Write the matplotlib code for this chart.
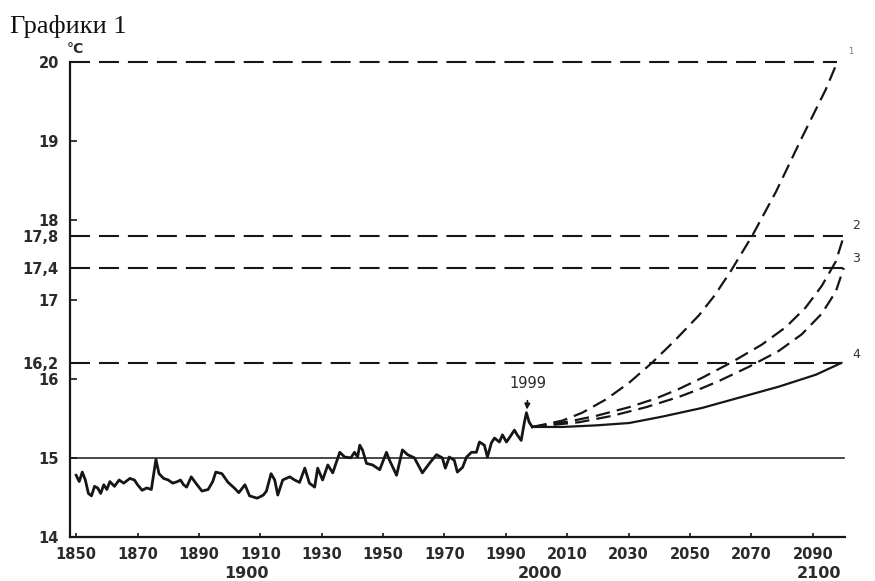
import matplotlib.pyplot as plt
from matplotlib.ticker import FixedLocator, FixedFormatter

hist_years = [1850, 1851, 1852, 1853, 1854, 1855, 1856, 1857, 1858, 1859,
              1860, 1861, 1862.5, 1864, 1865.5, 1867.5, 1869, 1870, 1871.5, 1873,
              1874.5, 1876, 1877, 1878.5, 1880, 1881.5, 1883, 1884, 1885, 1886,
              1887.5, 1889, 1891, 1893, 1894.5, 1895.5, 1897.5, 1899.5, 1901.5, 1903,
              1905, 1906.5, 1909, 1911, 1912, 1913.5, 1914.7, 1915.7, 1917.3, 1919.6,
              1921.2, 1922.8, 1924.5, 1926, 1927.7, 1928.7, 1930.3, 1932, 1933.6, 1935.9,
              1937.5, 1939.5, 1940.7, 1941.7, 1942.4, 1943.3, 1944.6, 1946.6, 1948.9, 1951.1,
              1952.1, 1954.4, 1956.3, 1958, 1960.2, 1962.8, 1965.1, 1967.4, 1969.3, 1970.3,
              1971.6, 1973.2, 1974.2, 1975.9, 1977.2, 1978.8, 1980.4, 1981.4, 1983, 1984,
              1985.3, 1986.3, 1987.9, 1988.9, 1990.2, 1991.1, 1992.8, 1993.7, 1995, 1996,
              1996.7, 1997.6, 1998.6]
hist_temps = [14.78, 14.70, 14.82, 14.72, 14.55, 14.52, 14.64, 14.62, 14.55, 14.66,
              14.60, 14.70, 14.64, 14.72, 14.68, 14.74, 14.72, 14.66, 14.59, 14.62,
              14.60, 14.98, 14.80, 14.74, 14.72, 14.68, 14.70, 14.72, 14.66, 14.63,
              14.76, 14.68, 14.58, 14.60, 14.70, 14.82, 14.80, 14.69, 14.62, 14.56,
              14.66, 14.52, 14.49, 14.53, 14.58, 14.80, 14.72, 14.53, 14.72, 14.76,
              14.72, 14.69, 14.87, 14.68, 14.63, 14.87, 14.72, 14.91, 14.81, 15.07,
              15.01, 15.00, 15.07, 15.01, 15.16, 15.10, 14.93, 14.91, 14.85, 15.07,
              14.97, 14.78, 15.10, 15.04, 15.00, 14.81, 14.93, 15.04, 15.00, 14.87,
              15.01, 14.97, 14.82, 14.88, 15.01, 15.07, 15.07, 15.20, 15.16, 15.01,
              15.19, 15.25, 15.20, 15.29, 15.20, 15.25, 15.35, 15.29, 15.22, 15.44,
              15.57, 15.45, 15.39]

# scenario curves 1-4
proj1_years = [1998.6, 2008.4, 2014.9, 2022.7, 2030.2, 2037.6, 2045.0, 2052.9, 2058.0, 2063.3,
               2070.2, 2078.0, 2086.4, 2094.2, 2098.0]
proj1_temps = [15.39, 15.47, 15.57, 15.74, 15.95, 16.20, 16.48, 16.80, 17.05, 17.36,
               17.80, 18.36, 19.04, 19.65, 20.0]
proj2_years = [1998.6, 2010.7, 2019.4, 2030.2, 2038.9, 2046.4, 2053.9, 2063.7, 2073.4, 2081.2,
               2087.7, 2092.9, 2097.5, 2100.1]
proj2_temps = [15.39, 15.46, 15.53, 15.64, 15.75, 15.87, 16.01, 16.21, 16.43, 16.65,
               16.90, 17.17, 17.48, 17.8]
proj3_years = [1998.6, 2013.9, 2024.6, 2035.7, 2046.4, 2053.9, 2059.4, 2069.2, 2078.9, 2086.4,
               2092.9, 2097.5, 2100.1]
proj3_temps = [15.39, 15.45, 15.53, 15.64, 15.77, 15.88, 15.97, 16.15, 16.35, 16.56,
               16.82, 17.10, 17.4]
proj4_years = [1998.6, 2008.4, 2019.4, 2030.2, 2040.9, 2053.9, 2066.0, 2079.0, 2091.0, 2099.4]
proj4_temps = [15.39, 15.39, 15.41, 15.44, 15.52, 15.63, 15.76, 15.90, 16.05, 16.2]

# target levels (dashed) and their end years
levels = [20.0, 17.8, 17.4, 16.2]
level_ends = [2098.0, 2100.1, 2100.1, 2099.4]
curve_names = ["1", "2", "3", "4"]

x_ticks = [1850, 1870, 1890, 1910, 1930, 1950, 1970, 1990, 2010, 2030, 2050, 2070, 2090]
y_ticks = [14, 15, 16, 16.2, 17, 17.4, 17.8, 18, 19, 20]
y_labels = ["14", "15", "16", "16,2", "17", "17,4", "17,8", "18", "19", "20"]
century_labels = ["1900", "2000", "2100"]
century_pos = [1905.5, 2001.0, 2092.0]

ink = "#161616"
txt = "#2a2a2a"

fig = plt.figure(figsize=(8.75, 5.81), dpi=100)
fig.patch.set_facecolor("white")
ax = fig.add_axes([70 / 875, 44 / 581, 775 / 875, 475 / 581])
ax.set_xlim(1848, 2100.5)
ax.set_ylim(14, 20)

for s in ["top", "right"]:
    ax.spines[s].set_visible(False)
for s in ["left", "bottom"]:
    ax.spines[s].set_color(ink)
    ax.spines[s].set_linewidth(1.6)

# reference line at 15
ax.plot([1848, 2100.3], [15, 15], color=ink, lw=1.1, clip_on=False)

# dashed target levels
for lev, end in zip(levels, level_ends):
    ax.plot([1848, end], [lev, lev], color=ink, lw=1.5, dashes=(9.6, 4.3), clip_on=False)

# history
ax.plot(hist_years, hist_temps, color=ink, lw=2.0, solid_joinstyle="round", clip_on=False)

# projections
ax.plot(proj1_years, proj1_temps, color=ink, lw=1.6, dashes=(6.5, 3.2), clip_on=False)
ax.plot(proj2_years, proj2_temps, color=ink, lw=1.6, dashes=(6.5, 3.2), clip_on=False)
ax.plot(proj3_years, proj3_temps, color=ink, lw=1.6, dashes=(6.5, 3.2), clip_on=False)
ax.plot(proj4_years, proj4_temps, color=ink, lw=1.6, solid_capstyle="round", clip_on=False)

name_y = [20.13, 17.93, 17.52, 16.3]
name_x = [2102.3, 2104.0, 2104.0, 2104.3]
for nm, nx, ny in zip(curve_names, name_x, name_y):
    ax.text(nx, ny, nm, fontsize=9 if nm != "1" else 6, color="#333333" if nm != "1" else "#777777",
            ha="center", va="center", clip_on=False)

ax.annotate("1999", xy=(1996.9, 15.61), xytext=(1997.3, 15.94),
            ha="center", va="center", fontsize=10.5, color=txt,
            arrowprops=dict(arrowstyle="-|>", color=ink, lw=1.2, mutation_scale=8,
                            shrinkA=5, shrinkB=0))

ax.xaxis.set_major_locator(FixedLocator(x_ticks))
ax.yaxis.set_major_locator(FixedLocator(y_ticks))
ax.yaxis.set_major_formatter(FixedFormatter(y_labels))
ax.tick_params(axis="x", direction="in", length=3, width=1.2, color=ink, pad=7,
               labelsize=10.5, labelcolor=txt)
ax.tick_params(axis="y", direction="in", length=5, width=1.2, color=ink, pad=8,
               labelsize=10.5, labelcolor=txt)
for lab in ax.get_xticklabels() + ax.get_yticklabels():
    lab.set_fontweight("bold")

for lab, pos in zip(century_labels, century_pos):
    ax.text(pos, -0.076, lab, transform=ax.get_xaxis_transform(), ha="center", va="center",
            fontsize=11.5, fontweight="bold", color=txt)

ax.text(1849.8, 20.17, "°C", ha="center", va="center", fontsize=10, fontweight="bold",
        color=txt, clip_on=False)

fig.text(10 / 875, 1 - 33 / 581, "Графики 1", fontsize=19, family="Liberation Serif",
         color="#111111", ha="left", va="baseline")

fig.savefig("out.png", dpi=100, facecolor=fig.get_facecolor())
